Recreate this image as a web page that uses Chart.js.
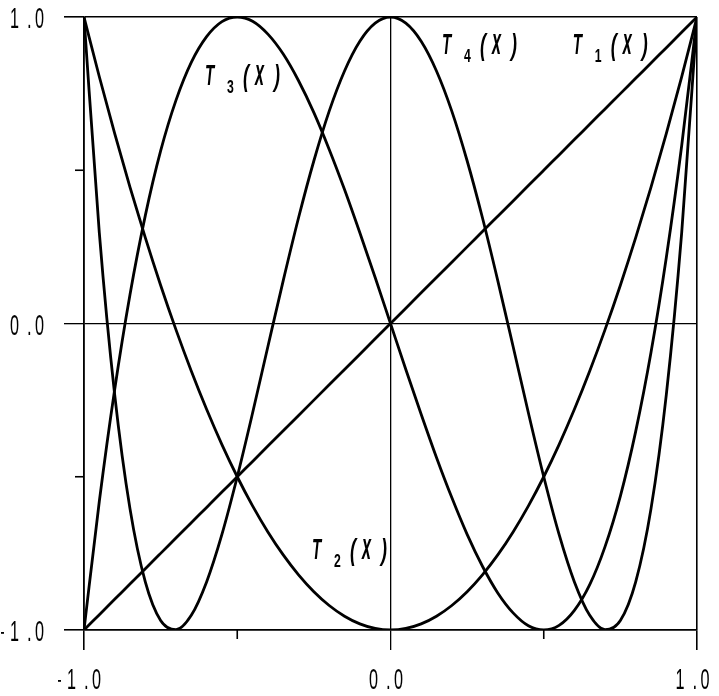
<!DOCTYPE html>
<html>
<head>
<meta charset="utf-8">
<script src="https://cdn.jsdelivr.net/npm/chart.js@4/dist/chart.umd.min.js"></script>
<style>
  html, body { margin: 0; padding: 0; background: #fff; }
  canvas { display: block; }
</style>
</head>
<body>
<canvas id="chart" width="719" height="696"></canvas>
<script>
// sample points along x
const xs = [-1, -0.95, -0.9, -0.85, -0.8, -0.75, -0.7, -0.65, -0.6, -0.55, -0.5, -0.45, -0.4, -0.35, -0.3, -0.25, -0.2, -0.15, -0.1, -0.05, 0,
  0.05, 0.1, 0.15, 0.2, 0.25, 0.3, 0.35, 0.4, 0.45, 0.5, 0.55, 0.6, 0.65, 0.7, 0.75, 0.8, 0.85, 0.9, 0.95, 1]

const t1 = [-1, -0.95, -0.9, -0.85, -0.8, -0.75, -0.7, -0.65, -0.6, -0.55, -0.5, -0.45, -0.4, -0.35, -0.3, -0.25, -0.2, -0.15, -0.1, -0.05, 0,
  0.05, 0.1, 0.15, 0.2, 0.25, 0.3, 0.35, 0.4, 0.45, 0.5, 0.55, 0.6, 0.65, 0.7, 0.75, 0.8, 0.85, 0.9, 0.95, 1]

const t2 = [1, 0.805, 0.62, 0.445, 0.28, 0.125, -0.02, -0.155, -0.28, -0.395, -0.5, -0.595, -0.68, -0.755, -0.82, -0.875, -0.92, -0.955, -0.98, -0.995, -1,
  -0.995, -0.98, -0.955, -0.92, -0.875, -0.82, -0.755, -0.68, -0.595, -0.5, -0.395, -0.28, -0.155, -0.02, 0.125, 0.28, 0.445, 0.62, 0.805, 1]

const t3 = [-1, -0.58, -0.216, 0.094, 0.352, 0.563, 0.728, 0.852, 0.936, 0.985, 1, 0.986, 0.944, 0.879, 0.792, 0.688, 0.568, 0.437, 0.296, 0.15, 0,
  -0.15, -0.296, -0.437, -0.568, -0.688, -0.792, -0.879, -0.944, -0.986, -1, -0.985, -0.936, -0.852, -0.728, -0.563, -0.352, -0.094, 0.216, 0.58, 1]

const t4 = [1, 0.296, -0.231, -0.604, -0.843, -0.969, -0.999, -0.952, -0.843, -0.688, -0.5, -0.292, -0.075, 0.14, 0.345, 0.531, 0.693, 0.824, 0.921, 0.98, 1,
  0.98, 0.921, 0.824, 0.693, 0.531, 0.345, 0.14, -0.075, -0.292, -0.5, -0.688, -0.843, -0.952, -0.999, -0.969, -0.843, -0.604, -0.231, 0.296, 1]

const tickValues = [-1, -0.5, 0, 0.5, 1]
const majorTicks = [-1, 0, 1]

// curve labels: subscript, anchor in data units
const labelSubs = ["3", "4", "1", "2"]
const labelX = [-0.605, 0.168, 0.595, -0.256]
const labelY = [0.778, 0.88, 0.88, -0.768]

const isMajor = (v) => majorTicks.includes(v)
const fmt = (v) => (isMajor(v) ? v.toFixed(1) : "")

const series = (ys) => xs.map((x, i) => ({ x, y: ys[i] }))

const curve = (data) => ({
  data,
  borderColor: "#000",
  borderWidth: 2.8,
  pointRadius: 0,
  fill: false,
  cubicInterpolationMode: "monotone"
})

const gridOpts = {
  color: (ctx) => (ctx.tick && isMajor(ctx.tick.value) ? "#000" : "transparent"),
  lineWidth: (ctx) => (ctx.tick && ctx.tick.value === 0 ? 1.3 : 1.6),
  drawTicks: true,
  tickLength: 20,
  tickColor: (ctx) => (ctx.tick && isMajor(ctx.tick.value) ? "#000" : "transparent")
}

const noOverflow = (scale) => {
  scale.paddingTop = 0
  scale.paddingBottom = 0
  scale.paddingLeft = 0
  scale.paddingRight = 0
}

// condensed glyph drawing
const glyph = (ctx, text, x, y, font, sx) => {
  ctx.save()
  ctx.translate(x, y)
  ctx.scale(sx, 1)
  ctx.font = font
  ctx.fillText(text, 0, 0)
  ctx.restore()
}

// tick label "d . d": digit, dot at +18, digit at +25, minus 9px before
const drawTickLabel = (ctx, label, left, baseline) => {
  const font = "30px 'Liberation Sans', Arial, sans-serif"
  const neg = label.startsWith("-")
  const body = neg ? label.slice(1) : label
  if (neg) ctx.fillRect(left - 9, baseline - 9, 3, 1.8)
  glyph(ctx, body[0], left, baseline, font, 0.54)
  glyph(ctx, ".", left + 17, baseline, font, 0.56)
  glyph(ctx, body[2], left + 25, baseline, font, 0.54)
}

const extras = {
  id: "extras",
  afterDraw(chart) {
    const { ctx } = chart
    const xScale = chart.scales.x
    const yScale = chart.scales.y
    const area = chart.chartArea
    ctx.save()
    ctx.strokeStyle = "#000"
    ctx.fillStyle = "#000"
    ctx.lineWidth = 1.6

    // short ticks at the half steps
    tickValues.filter((v) => !isMajor(v)).forEach((v) => {
      const py = yScale.getPixelForValue(v)
      ctx.beginPath()
      ctx.moveTo(area.left - 9, py)
      ctx.lineTo(area.left, py)
      ctx.stroke()
      const px = xScale.getPixelForValue(v)
      ctx.beginPath()
      ctx.moveTo(px, area.bottom)
      ctx.lineTo(px, area.bottom + 9)
      ctx.stroke()
    })

    // tick labels
    ctx.textAlign = "left"
    ctx.textBaseline = "alphabetic"
    yScale.ticks.forEach((t) => {
      const label = fmt(t.value)
      if (!label) return
      const py = yScale.getPixelForValue(t.value)
      drawTickLabel(ctx, label, area.left - 74, py + 11)
    })
    xScale.ticks.forEach((t) => {
      const label = fmt(t.value)
      if (!label) return
      const px = xScale.getPixelForValue(t.value)
      const width = label.startsWith("-") ? 42 : 33
      const left = px - 5 - width / 2 + (label.startsWith("-") ? 9 : 0)
      drawTickLabel(ctx, label, left, area.bottom + 59)
    })

    // T_n(x) captions
    labelSubs.forEach((sub, i) => {
      const px = xScale.getPixelForValue(labelX[i])
      const py = yScale.getPixelForValue(labelY[i])
      glyph(ctx, "T", px, py, "italic bold 29px 'Liberation Sans', sans-serif", 0.52)
      glyph(ctx, sub, px + 22, py + 8, "bold 18px 'Liberation Sans', sans-serif", 0.68)
      glyph(ctx, "(", px + 38, py + 1, "italic bold 30px 'Liberation Sans', sans-serif", 0.6)
      glyph(ctx, "x", px + 50, py, "italic bold 36px 'Liberation Sans', sans-serif", 0.45)
      glyph(ctx, ")", px + 69, py + 1, "italic bold 30px 'Liberation Sans', sans-serif", 0.6)
    })
    ctx.restore()
  }
}

new Chart(document.getElementById("chart"), {
  type: "line",
  data: {
    datasets: [curve(series(t1)), curve(series(t2)), curve(series(t3)), curve(series(t4))]
  },
  options: {
    responsive: false,
    animation: false,
    devicePixelRatio: 1,
    layout: { padding: { top: 17, right: 22, left: 0, bottom: 0 } },
    plugins: { legend: { display: false }, tooltip: { enabled: false } },
    scales: {
      x: {
        type: "linear",
        min: -1,
        max: 1,
        afterFit: (scale) => { scale.height = 66; noOverflow(scale) },
        afterBuildTicks: (scale) => { scale.ticks = tickValues.map((value) => ({ value })) },
        grid: gridOpts,
        border: { display: true, color: "#000", width: 1.6 },
        ticks: { display: false, callback: fmt }
      },
      y: {
        type: "linear",
        min: -1,
        max: 1,
        afterFit: (scale) => { scale.width = 84; noOverflow(scale) },
        afterBuildTicks: (scale) => { scale.ticks = tickValues.map((value) => ({ value })) },
        grid: gridOpts,
        border: { display: true, color: "#000", width: 1.6 },
        ticks: { display: false, callback: fmt }
      }
    }
  },
  plugins: [extras]
})
</script>
</body>
</html>
